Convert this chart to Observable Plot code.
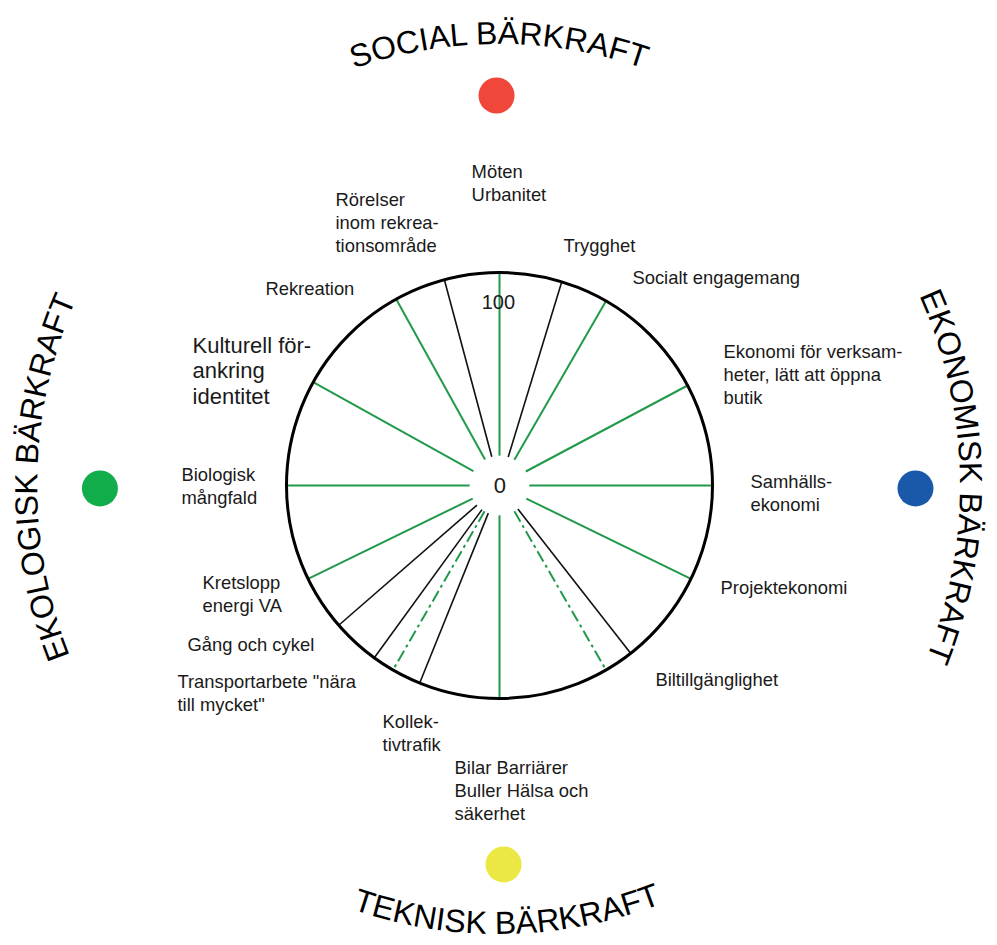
<!DOCTYPE html>
<html><head><meta charset="utf-8">
<script src="https://cdn.jsdelivr.net/npm/d3@7"></script>
<script src="https://cdn.jsdelivr.net/npm/@observablehq/plot@0.6"></script>
<style>html,body{margin:0;padding:0;background:#fff}svg{display:block}</style>
</head><body><div id="chart"></div>
<script>
// ---- data ----
const pillars = ["SOCIAL BÄRKRAFT", "EKONOMISK BÄRKRAFT", "TEKNISK BÄRKRAFT", "EKOLOGISK BÄRKRAFT"];
const pillarColors = ["#f1473a", "#1a59a9", "#ece843", "#10ad4a"];
const spokeAngles = [0, 17, 30, 62, 90, 116, 142, 150, 180, 202, 210, 216, 229, 244, 270, 299, 331, 345];
const spokeGroup = ["main","other","main","main","main","main","other","planned","main","other","planned","other","other","main","main","main","main","other"];
const labels = [
  "Möten\nUrbanitet",
  "Rörelser\ninom rekrea-\ntionsområde",
  "Trygghet",
  "Socialt engagemang",
  "Rekreation",
  "Kulturell för-\nankring\nidentitet",
  "Ekonomi för verksam-\nheter, lätt att öppna\nbutik",
  "Biologisk\nmångfald",
  "Samhälls-\nekonomi",
  "Kretslopp\nenergi VA",
  "Projektekonomi",
  "Gång och cykel",
  "Transportarbete \"nära\ntill mycket\"",
  "Biltillgänglighet",
  "Kollek-\ntivtrafik",
  "Bilar Barriärer\nBuller Hälsa och\nsäkerhet"
];
const scaleTicks = [0, 100];

// ---- layout (chart units: outer ring = 100) ----
const CX = 499, CY = 485, R = 213, INNER = 14;
const labelPos = [
  [-13.1, 152.1], [-77.0, 139.0], [30.0, 117.4], [62.4, 102.4], [-109.9, 97.2],
  [-144.1, 70.4], [105.2, 67.6], [-149.3, 9.9], [117.8, 6.6], [-139.4, -40.8],
  [103.8, -43.2], [-146.5, -70.0], [-151.2, -87.3], [73.2, -86.4], [-54.9, -106.1],
  [-21.1, -127.7]
];
const bigLabel = 5;
const tickPos = [[0.2, 0], [-0.5, 86.1]];
const pillarPos = [[-1.4, 183.1], [195.3, -1.4], [1.9, -177.9], [-187.6, -1.4]];
const titleRadius = [441, 461, 449, 462];
const titleOffset = ["50%", "49.4%", "50.6%", "50.55%"];
const groupStyle = {
  main: {stroke: "#22994a", strokeWidth: 2},
  other: {stroke: "#111", strokeWidth: 1.6},
  planned: {stroke: "#22994a", strokeWidth: 2, strokeDasharray: "12,4,3,4"}
};

const rad = a => a * Math.PI / 180;
const spokes = spokeAngles.map((a, i) => ({a, g: spokeGroup[i]}));
const labelData = labels.map((t, i) => ({t, x: labelPos[i][0], y: labelPos[i][1], big: i === bigLabel}));
const pillarData = pillars.map((p, i) => ({p, c: pillarColors[i], x: pillarPos[i][0], y: pillarPos[i][1]}));
const tickData = scaleTicks.map((v, i) => ({v, x: tickPos[i][0], y: tickPos[i][1]}));

const spokeMark = g => Plot.link(spokes.filter(d => d.g === g), {
  x1: d => INNER * Math.sin(rad(d.a)), y1: d => INNER * Math.cos(rad(d.a)),
  x2: d => 100 * Math.sin(rad(d.a)), y2: d => 100 * Math.cos(rad(d.a)),
  ...groupStyle[g]
});

const chart = Plot.plot({
  width: 997, height: 945,
  x: {domain: [-100, 100], range: [CX - R, CX + R]},
  y: {domain: [-100, 100], range: [CY + R, CY - R]},
  color: {type: "identity"},
  axis: null,
  style: {fontFamily: '"Liberation Sans", Arial, Helvetica, sans-serif', background: "#fff", color: "#111"},
  marks: [
    spokeMark("main"), spokeMark("other"), spokeMark("planned"),
    Plot.dot([0], {x: () => 0, y: () => 0, r: R, stroke: "#000", strokeWidth: 3, fill: "none"}),
    Plot.text(labelData.filter(d => !d.big), {x: "x", y: "y", text: "t", textAnchor: "start", lineAnchor: "top", fontSize: 18.4, lineHeight: 1.25, fill: "#1a1a1a"}),
    Plot.text(labelData.filter(d => d.big), {x: "x", y: "y", text: "t", textAnchor: "start", lineAnchor: "top", fontSize: 22, lineHeight: 1.14, fill: "#1a1a1a"}),
    Plot.text(tickData, {x: "x", y: "y", text: d => String(d.v), fontSize: d => d.v === 0 ? 22 : 20, fill: "#1a1a1a"}),
    Plot.dot(pillarData, {x: "x", y: "y", r: 18, fill: "c"})
  ]
});
document.getElementById("chart").appendChild(chart);

// curved pillar titles
const svg = d3.select(chart);
const cx = chart.scale("x").apply(0), cy = chart.scale("y").apply(0);
const arcPaths = [
  r => `M${cx - r},${cy}A${r},${r} 0 0 1 ${cx + r},${cy}`,
  r => `M${cx},${cy - r}A${r},${r} 0 0 1 ${cx},${cy + r}`,
  r => `M${cx - r},${cy}A${r},${r} 0 0 0 ${cx + r},${cy}`,
  r => `M${cx},${cy + r}A${r},${r} 0 0 1 ${cx},${cy - r}`
];
const defs = svg.append("defs");
pillars.forEach((p, i) => {
  defs.append("path").attr("id", "arc" + i).attr("d", arcPaths[i](titleRadius[i]));
  svg.append("text")
    .attr("font-size", 32)
    .attr("fill", "#000")
    .attr("font-family", '"Liberation Sans", Arial, sans-serif')
    .append("textPath")
    .attr("href", "#arc" + i)
    .attr("startOffset", titleOffset[i])
    .attr("text-anchor", "middle")
    .text(p);
});
</script>
</body></html>
